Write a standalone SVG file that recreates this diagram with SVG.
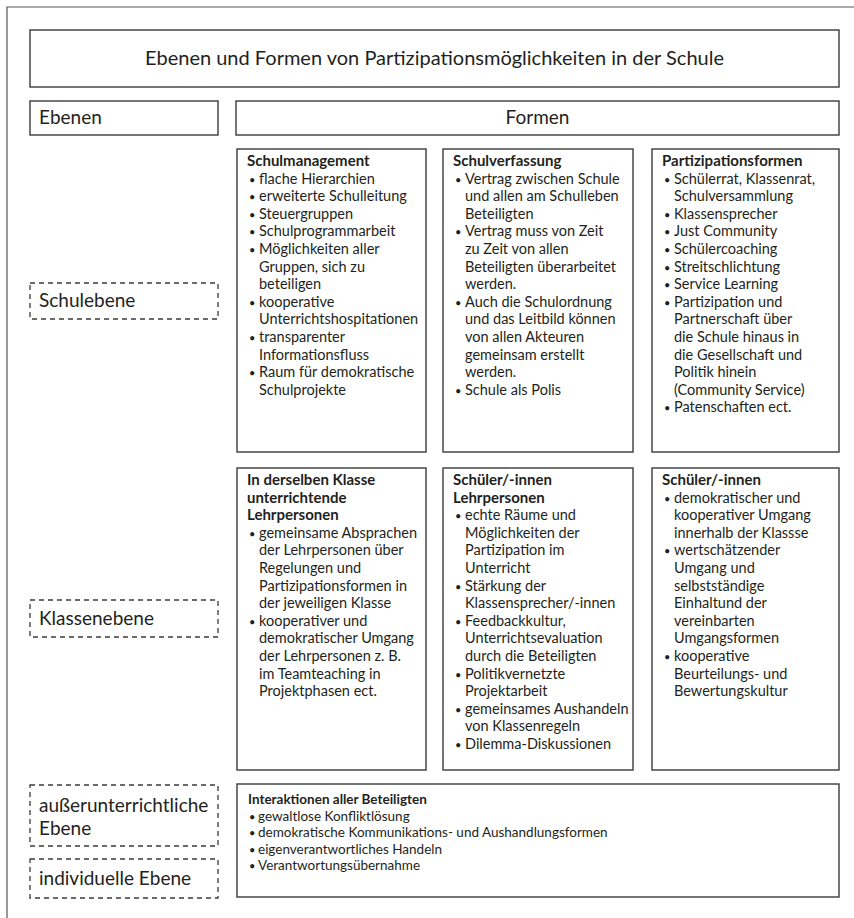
<svg xmlns="http://www.w3.org/2000/svg" width="854" height="918" viewBox="0 0 854 918">
<style>
  .box{fill:#fff;stroke:#3a3a3a;stroke-width:1.4}
  .dash{fill:#fff;stroke:#3a3a3a;stroke-width:1.3;stroke-dasharray:5 4}
  .frame{fill:none;stroke:#555;stroke-width:1.2}
  text{font-family:Lato,"Liberation Sans",sans-serif;fill:#231f20}
  .title{font-size:20px}
  .big{font-size:19px}
  .body{font-size:14.5px}
  .hd{font-weight:bold;font-size:15px}
  .b{font-size:11px}
  .small{font-size:13.5px}
  .small .hd{font-size:13.5px}
</style>
<rect width="854" height="918" fill="#fff"/>
<path class="frame" d="M7,918 V7 H854"/>

<g id="title">
  <rect class="box" x="30" y="30" width="809" height="57"/>
  <text class="title" x="434.5" y="65" text-anchor="middle">Ebenen und Formen von Partizipationsmöglichkeiten in der Schule</text>
</g>
<g id="ebenen">
  <rect class="box" x="30" y="101" width="188" height="34"/>
  <text class="big" x="39" y="124">Ebenen</text>
</g>
<g id="formen">
  <rect class="box" x="236" y="101" width="603" height="34"/>
  <text class="big" x="537.5" y="124" text-anchor="middle">Formen</text>
</g>

<g id="schulebene">
  <rect class="dash" x="30" y="283" width="188" height="36"/>
  <text class="big" x="39" y="307">Schulebene</text>
</g>
<g id="klassenebene">
  <rect class="dash" x="30" y="600" width="188" height="37"/>
  <text class="big" x="39" y="625">Klassenebene</text>
</g>
<g id="ausserunterrichtliche">
  <rect class="dash" x="30" y="785" width="188" height="61"/>
  <text class="big" x="39" y="812">außerunterrichtliche</text>
  <text class="big" x="39" y="835">Ebene</text>
</g>
<g id="individuelle">
  <rect class="dash" x="30" y="859" width="188" height="39"/>
  <text class="big" x="39" y="885">individuelle Ebene</text>
</g>

<g id="schulmanagement">
  <rect class="box" x="237" y="149" width="189" height="303"/>
  <text class="body">
    <tspan class="hd" x="247" y="166">Schulmanagement</tspan>
    <tspan class="b" x="249" y="183.6">•</tspan><tspan x="259">flache Hierarchien</tspan>
    <tspan class="b" x="249" y="201.2">•</tspan><tspan x="259">erweiterte Schulleitung</tspan>
    <tspan class="b" x="249" y="218.8">•</tspan><tspan x="259">Steuergruppen</tspan>
    <tspan class="b" x="249" y="236.4">•</tspan><tspan x="259">Schulprogrammarbeit</tspan>
    <tspan class="b" x="249" y="254">•</tspan><tspan x="259">Möglichkeiten aller</tspan>
    <tspan x="259" y="271.6">Gruppen, sich zu</tspan>
    <tspan x="259" y="289.2">beteiligen</tspan>
    <tspan class="b" x="249" y="306.8">•</tspan><tspan x="259">kooperative</tspan>
    <tspan x="259" y="324.4">Unterrichtshospitationen</tspan>
    <tspan class="b" x="249" y="342">•</tspan><tspan x="259">transparenter</tspan>
    <tspan x="259" y="359.6">Informationsfluss</tspan>
    <tspan class="b" x="249" y="377.2">•</tspan><tspan x="259">Raum für demokratische</tspan>
    <tspan x="259" y="394.8">Schulprojekte</tspan>
  </text>
</g>

<g id="schulverfassung">
  <rect class="box" x="443" y="149" width="190" height="303"/>
  <text class="body">
    <tspan class="hd" x="453" y="166">Schulverfassung</tspan>
    <tspan class="b" x="455" y="183.6">•</tspan><tspan x="465">Vertrag zwischen Schule</tspan>
    <tspan x="465" y="201.2">und allen am Schulleben</tspan>
    <tspan x="465" y="218.8">Beteiligten</tspan>
    <tspan class="b" x="455" y="236.4">•</tspan><tspan x="465">Vertrag muss von Zeit</tspan>
    <tspan x="465" y="254">zu Zeit von allen</tspan>
    <tspan x="465" y="271.6">Beteiligten überarbeitet</tspan>
    <tspan x="465" y="289.2">werden.</tspan>
    <tspan class="b" x="455" y="306.8">•</tspan><tspan x="465">Auch die Schulordnung</tspan>
    <tspan x="465" y="324.4">und das Leitbild können</tspan>
    <tspan x="465" y="342">von allen Akteuren</tspan>
    <tspan x="465" y="359.6">gemeinsam erstellt</tspan>
    <tspan x="465" y="377.2">werden.</tspan>
    <tspan class="b" x="455" y="394.8">•</tspan><tspan x="465">Schule als Polis</tspan>
  </text>
</g>

<g id="partizipationsformen">
  <rect class="box" x="652" y="149" width="187" height="303"/>
  <text class="body">
    <tspan class="hd" x="662" y="166">Partizipationsformen</tspan>
    <tspan class="b" x="664" y="183.6">•</tspan><tspan x="674">Schülerrat, Klassenrat,</tspan>
    <tspan x="674" y="201.2">Schulversammlung</tspan>
    <tspan class="b" x="664" y="218.8">•</tspan><tspan x="674">Klassensprecher</tspan>
    <tspan class="b" x="664" y="236.4">•</tspan><tspan x="674">Just Community</tspan>
    <tspan class="b" x="664" y="254">•</tspan><tspan x="674">Schülercoaching</tspan>
    <tspan class="b" x="664" y="271.6">•</tspan><tspan x="674">Streitschlichtung</tspan>
    <tspan class="b" x="664" y="289.2">•</tspan><tspan x="674">Service Learning</tspan>
    <tspan class="b" x="664" y="306.8">•</tspan><tspan x="674">Partizipation und</tspan>
    <tspan x="674" y="324.4">Partnerschaft über</tspan>
    <tspan x="674" y="342">die Schule hinaus in</tspan>
    <tspan x="674" y="359.6">die Gesellschaft und</tspan>
    <tspan x="674" y="377.2">Politik hinein</tspan>
    <tspan x="674" y="394.8">(Community Service)</tspan>
    <tspan class="b" x="664" y="412.4">•</tspan><tspan x="674">Patenschaften ect.</tspan>
  </text>
</g>

<g id="lehrpersonen">
  <rect class="box" x="237" y="468" width="189" height="302"/>
  <text class="body">
    <tspan class="hd" x="247" y="485">In derselben Klasse</tspan>
    <tspan class="hd" x="247" y="502.6">unterrichtende</tspan>
    <tspan class="hd" x="247" y="520.2">Lehrpersonen</tspan>
    <tspan class="b" x="249" y="537.8">•</tspan><tspan x="259">gemeinsame Absprachen</tspan>
    <tspan x="259" y="555.4">der Lehrpersonen über</tspan>
    <tspan x="259" y="573">Regelungen und</tspan>
    <tspan x="259" y="590.6">Partizipationsformen in</tspan>
    <tspan x="259" y="608.2">der jeweiligen Klasse</tspan>
    <tspan class="b" x="249" y="625.8">•</tspan><tspan x="259">kooperativer und</tspan>
    <tspan x="259" y="643.4">demokratischer Umgang</tspan>
    <tspan x="259" y="661">der Lehrpersonen z. B.</tspan>
    <tspan x="259" y="678.6">im Teamteaching in</tspan>
    <tspan x="259" y="696.2">Projektphasen ect.</tspan>
  </text>
</g>

<g id="schueler-lehrpersonen">
  <rect class="box" x="443" y="468" width="190" height="302"/>
  <text class="body">
    <tspan class="hd" x="453" y="485">Schüler/-innen</tspan>
    <tspan class="hd" x="453" y="502.6">Lehrpersonen</tspan>
    <tspan class="b" x="455" y="520.2">•</tspan><tspan x="465">echte Räume und</tspan>
    <tspan x="465" y="537.8">Möglichkeiten der</tspan>
    <tspan x="465" y="555.4">Partizipation im</tspan>
    <tspan x="465" y="573">Unterricht</tspan>
    <tspan class="b" x="455" y="590.6">•</tspan><tspan x="465">Stärkung der</tspan>
    <tspan x="465" y="608.2">Klassensprecher/-innen</tspan>
    <tspan class="b" x="455" y="625.8">•</tspan><tspan x="465">Feedbackkultur,</tspan>
    <tspan x="465" y="643.4">Unterrichtsevaluation</tspan>
    <tspan x="465" y="661">durch die Beteiligten</tspan>
    <tspan class="b" x="455" y="678.6">•</tspan><tspan x="465">Politikvernetzte</tspan>
    <tspan x="465" y="696.2">Projektarbeit</tspan>
    <tspan class="b" x="455" y="713.8">•</tspan><tspan x="465">gemeinsames Aushandeln</tspan>
    <tspan x="465" y="731.4">von Klassenregeln</tspan>
    <tspan class="b" x="455" y="749">•</tspan><tspan x="465">Dilemma-Diskussionen</tspan>
  </text>
</g>

<g id="schueler">
  <rect class="box" x="652" y="468" width="187" height="302"/>
  <text class="body">
    <tspan class="hd" x="662" y="485">Schüler/-innen</tspan>
    <tspan class="b" x="664" y="502.6">•</tspan><tspan x="674">demokratischer und</tspan>
    <tspan x="674" y="520.2">kooperativer Umgang</tspan>
    <tspan x="674" y="537.8">innerhalb der Klassse</tspan>
    <tspan class="b" x="664" y="555.4">•</tspan><tspan x="674">wertschätzender</tspan>
    <tspan x="674" y="573">Umgang und</tspan>
    <tspan x="674" y="590.6">selbstständige</tspan>
    <tspan x="674" y="608.2">Einhaltund der</tspan>
    <tspan x="674" y="625.8">vereinbarten</tspan>
    <tspan x="674" y="643.4">Umgangsformen</tspan>
    <tspan class="b" x="664" y="661">•</tspan><tspan x="674">kooperative</tspan>
    <tspan x="674" y="678.6">Beurteilungs- und</tspan>
    <tspan x="674" y="696.2">Bewertungskultur</tspan>
  </text>
</g>

<g id="interaktionen">
  <rect class="box" x="237" y="784" width="602" height="113"/>
  <text class="small">
    <tspan class="hd" x="248" y="804">Interaktionen aller Beteiligten</tspan>
    <tspan class="b" x="249" y="820.5">•</tspan><tspan x="258">gewaltlose Konfliktlösung</tspan>
    <tspan class="b" x="249" y="837">•</tspan><tspan x="258">demokratische Kommunikations- und Aushandlungsformen</tspan>
    <tspan class="b" x="249" y="853.5">•</tspan><tspan x="258">eigenverantwortliches Handeln</tspan>
    <tspan class="b" x="249" y="870">•</tspan><tspan x="258">Verantwortungsübernahme</tspan>
  </text>
</g>
</svg>
